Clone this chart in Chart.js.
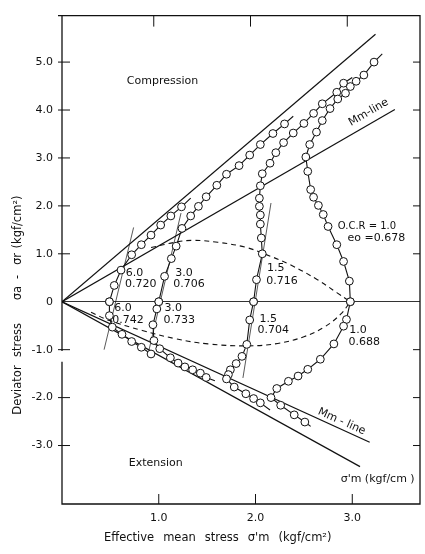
<!DOCTYPE html>
<html>
<head>
<meta charset="utf-8">
<script src="https://cdn.jsdelivr.net/npm/chart.js@4.4.1/dist/chart.umd.min.js"></script>
<style>
  html, body { margin: 0; padding: 0; background: #fff; }
  #wrap { width: 425px; height: 554px; }
</style>
</head>
<body>
<div id="wrap"><canvas id="grafico"></canvas></div>
<script>
// axis ticks
const xTicks = [1, 2, 3];
const yTicks = [5, 4, 3, 2, 1, 0, -1, -2, -3];

// straight lines from the origin
const compFailLine = [[0, 0], [3.24, 5.58]];
const compMmLine = [[0, 0], [3.44, 4.01]];
const extFailLine = [[0, 0], [3.08, -3.44]];
const extMmLine = [[0, 0], [3.18, -2.93]];

// thin tangents through the starting points
const tangent6 = [[0.435, -1.0], [0.74, 1.55]];
const tangent3 = [[0.90, -1.0], [1.23, 1.85]];
const tangent15 = [[1.87, -1.59], [2.16, 2.06]];

// dashed curves
const dashUpper = [[0.92, 1.13], [1.17, 1.24], [1.34, 1.28], [1.61, 1.24], [1.89, 1.14], [2.09, 1.0],
  [2.36, 0.77], [2.64, 0.46], [2.84, 0.19], [2.98, 0]];
const dashLower = [[0.30, -0.22], [0.49, -0.39], [0.83, -0.60], [1.17, -0.77], [1.51, -0.88], [1.92, -0.92],
  [2.23, -0.87], [2.50, -0.73], [2.71, -0.53], [2.88, -0.26], [2.98, 0]];

// stress paths (last point of a "tail" path is the line end, no marker)
const ocr10Comp = [[2.98, 0], [2.97, 0.43], [2.91, 0.84], [2.84, 1.19], [2.75, 1.57], [2.70, 1.82], [2.65, 2.01],
  [2.60, 2.18], [2.57, 2.34], [2.54, 2.72], [2.52, 3.02], [2.56, 3.28], [2.63, 3.54], [2.69, 3.78], [2.77, 4.03],
  [2.85, 4.23], [2.93, 4.35], [2.98, 4.49], [3.04, 4.60], [3.12, 4.73], [3.225, 5.0], [3.31, 5.17]];
const ocr10Ext = [[2.98, 0], [2.94, -0.37], [2.91, -0.51], [2.81, -0.88], [2.67, -1.20], [2.54, -1.41], [2.44, -1.55],
  [2.34, -1.66], [2.22, -1.81], [2.16, -2.0], [2.26, -2.16], [2.40, -2.36], [2.51, -2.51], [2.57, -2.60]];
const ocr15Comp = [[1.98, 0], [2.01, 0.46], [2.07, 1.0], [2.06, 1.33], [2.05, 1.62], [2.05, 1.81], [2.04, 1.99],
  [2.04, 2.16], [2.05, 2.42], [2.07, 2.67], [2.15, 2.89], [2.21, 3.11], [2.29, 3.32], [2.39, 3.52], [2.50, 3.72],
  [2.60, 3.93], [2.69, 4.13], [2.84, 4.37], [2.91, 4.56], [3.0, 4.68]];
const ocr15Ext = [[1.98, 0], [1.94, -0.38], [1.91, -0.89], [1.86, -1.14], [1.80, -1.29], [1.74, -1.42], [1.72, -1.52],
  [1.70, -1.61], [1.78, -1.78], [1.90, -1.92], [1.98, -2.02], [2.05, -2.11], [2.15, -2.26]];
const ocr30Comp = [[1.0, 0], [1.06, 0.53], [1.13, 0.90], [1.18, 1.16], [1.24, 1.53], [1.33, 1.79], [1.41, 1.99],
  [1.49, 2.19], [1.60, 2.43], [1.70, 2.66], [1.83, 2.84], [1.94, 3.06], [2.05, 3.28], [2.18, 3.51], [2.30, 3.71],
  [2.39, 3.87]];
const ocr30Ext = [[1.0, 0], [0.98, -0.15], [0.94, -0.48], [0.95, -0.81], [1.01, -0.98], [1.12, -1.17], [1.20, -1.28],
  [1.27, -1.36], [1.35, -1.42], [1.43, -1.49], [1.49, -1.58], [1.58, -1.65]];
const ocr60Comp = [[0.49, 0], [0.54, 0.34], [0.61, 0.66], [0.72, 0.98], [0.82, 1.19], [0.92, 1.39], [1.02, 1.60],
  [1.125, 1.79], [1.235, 1.98], [1.33, 2.16]];
const ocr60Ext = [[0.49, 0], [0.49, -0.29], [0.52, -0.53], [0.62, -0.68], [0.72, -0.83], [0.82, -0.95], [0.92, -1.09]];

const toXY = arr => arr.map(p => ({ x: p[0], y: p[1] }));

function recta(data, width) {
    return { data: toXY(data), showLine: true, borderColor: '#111', borderWidth: width,
        pointRadius: 0, order: 10 };
}

function curvaPunteada(data) {
    return { data: toXY(data), showLine: true, borderColor: '#111', borderWidth: 1.1,
        borderDash: [5, 4], tension: 0.4, pointRadius: 0, order: 9 };
}

function trayectoria(data, tail) {
    const radios = data.map((p, i) => (tail && i === data.length - 1) ? 0 : 3.9);
    return { data: toXY(data), showLine: true, borderColor: '#111', borderWidth: 1.1,
        pointRadius: radios, pointBackgroundColor: '#fff', pointBorderColor: '#111',
        pointBorderWidth: 1, order: 1 };
}

const etiquetas = [
    { t: 'Compression', x: 0.67, y: 4.60 },
    { t: 'Extension', x: 0.69, y: -3.36 },
    { t: '6.0', x: 0.66, y: 0.60 }, { t: '0.720', x: 0.65, y: 0.36 },
    { t: '3.0', x: 1.17, y: 0.60 }, { t: '0.706', x: 1.15, y: 0.36 },
    { t: '1.5', x: 2.12, y: 0.70 }, { t: '0.716', x: 2.11, y: 0.44 },
    { t: '6.0', x: 0.54, y: -0.13 }, { t: '0.742', x: 0.52, y: -0.38 },
    { t: '3.0', x: 1.06, y: -0.13 }, { t: '0.733', x: 1.05, y: -0.38 },
    { t: '1.5', x: 2.04, y: -0.36 }, { t: '0.704', x: 2.02, y: -0.60 },
    { t: '1.0', x: 2.97, y: -0.60 }, { t: '0.688', x: 2.96, y: -0.85 },
    { t: 'O.C.R = 1.0', x: 2.85, y: 1.58, size: 10 },
    { t: 'eo =0.678', x: 2.95, y: 1.33 },
    { t: "σ'm (kgf/cm )", x: 2.88, y: -3.70 }
];

const marcoPlugin = {
    id: 'marco',
    beforeDatasetsDraw(chart) {
        const { ctx, chartArea: a, scales: { x, y } } = chart;
        ctx.save();
        ctx.strokeStyle = '#111';
        ctx.lineWidth = 1.3;
        ctx.beginPath();
        ctx.moveTo(a.left - 4, a.top);
        ctx.lineTo(a.right, a.top);
        ctx.lineTo(a.right, a.bottom);
        ctx.lineTo(a.left, a.bottom);
        ctx.lineTo(a.left, y.getPixelForValue(-1.25));
        ctx.moveTo(a.left, y.getPixelForValue(-1.03));
        ctx.lineTo(a.left, a.top);
        ctx.stroke();

        ctx.lineWidth = 1;
        ctx.beginPath();
        yTicks.forEach(v => {
            if (v === 0) return;
            const py = y.getPixelForValue(v);
            ctx.moveTo(a.left - 4, py); ctx.lineTo(a.left + 8, py);
            ctx.moveTo(a.right - 7, py); ctx.lineTo(a.right, py);
        });
        xTicks.forEach(v => {
            const px = x.getPixelForValue(v);
            ctx.moveTo(px, a.bottom); ctx.lineTo(px, a.bottom - 10);
            ctx.moveTo(px - 5, a.top); ctx.lineTo(px - 5, a.top + 11);
        });
        ctx.stroke();
        ctx.restore();
    },
    afterDatasetsDraw(chart) {
        const { ctx, scales: { x, y } } = chart;
        ctx.save();
        ctx.fillStyle = '#111';
        ctx.textBaseline = 'middle';
        ctx.textAlign = 'left';
        etiquetas.forEach(e => {
            ctx.font = (e.size || 11) + 'px "DejaVu Sans"';
            ctx.fillText(e.t, x.getPixelForValue(e.x), y.getPixelForValue(e.y));
        });

        // Mm-line labels, rotated along the lines
        ctx.font = '11px "DejaVu Sans"';
        ctx.textAlign = 'center';
        ctx.save();
        ctx.translate(x.getPixelForValue(3.17), y.getPixelForValue(3.95));
        ctx.rotate(-30 * Math.PI / 180);
        ctx.fillText('Mm-line', 0, 0);
        ctx.restore();
        ctx.save();
        ctx.translate(x.getPixelForValue(2.89), y.getPixelForValue(-2.50));
        ctx.rotate(24 * Math.PI / 180);
        ctx.fillText('Mm - line', 0, 0);
        ctx.restore();

        // axis titles, word by word with wide gaps
        ctx.font = '11.5px "DejaVu Sans"';
        ctx.textAlign = 'left';
        let cx = 104;
        ['Effective', 'mean', 'stress', "σ'm", '(kgf/cm²)'].forEach(w => {
            ctx.fillText(w, cx, 538);
            cx += ctx.measureText(w).width + 9;
        });
        ctx.textAlign = 'center';
        [['Deviator', 390], ['stress', 340], ['σa', 293], ['-', 277], ['σr', 259], ['(kgf/cm²)', 222]]
            .forEach(w => {
                ctx.save();
                ctx.translate(18, w[1]);
                ctx.rotate(-Math.PI / 2);
                ctx.fillText(w[0], 0, 0);
                ctx.restore();
            });
        ctx.restore();
    }
};

document.addEventListener('DOMContentLoaded', () => {
    const config = {
        type: 'scatter',
        data: {
            datasets: [
                recta(compFailLine, 1.2), recta(compMmLine, 1.2),
                recta(extFailLine, 1.2), recta(extMmLine, 1.2),
                recta(tangent6, 0.7), recta(tangent3, 0.7), recta(tangent15, 0.7),
                curvaPunteada(dashUpper), curvaPunteada(dashLower),
                trayectoria(ocr10Comp, true), trayectoria(ocr10Ext, true),
                trayectoria(ocr15Comp, true), trayectoria(ocr15Ext, true),
                trayectoria(ocr30Comp, true), trayectoria(ocr30Ext, true),
                trayectoria(ocr60Comp, true), trayectoria(ocr60Ext, false)
            ]
        },
        options: {
            responsive: true,
            maintainAspectRatio: false,
            animation: false,
            layout: { padding: { top: 5, right: 1, left: 0, bottom: 0 } },
            plugins: { legend: { display: false }, tooltip: { enabled: false } },
            scales: {
                x: {
                    type: 'linear', min: 0, max: 3.7,
                    afterBuildTicks: s => { s.ticks = xTicks.map(v => ({ value: v })); },
                    afterFit: s => { s.height = 50; },
                    grid: { display: false, drawTicks: false },
                    border: { display: false },
                    ticks: { padding: 8, color: '#111', font: { family: 'DejaVu Sans', size: 11 },
                        callback: v => v.toFixed(1) }
                },
                y: {
                    type: 'linear', min: -4.22, max: 5.97,
                    afterBuildTicks: s => { s.ticks = yTicks.map(v => ({ value: v })); },
                    afterFit: s => { s.width = 62; },
                    grid: { drawTicks: false,
                        color: c => (c.tick && c.tick.value === 0) ? '#333' : 'rgba(0,0,0,0)' },
                    border: { display: false },
                    ticks: { padding: 9, color: '#111', font: { family: 'DejaVu Sans', size: 11 },
                        callback: v => v === 0 ? '0' : v.toFixed(1) }
                }
            }
        },
        plugins: [marcoPlugin]
    };
    new Chart(document.getElementById('grafico'), config);
});
</script>
</body>
</html>
